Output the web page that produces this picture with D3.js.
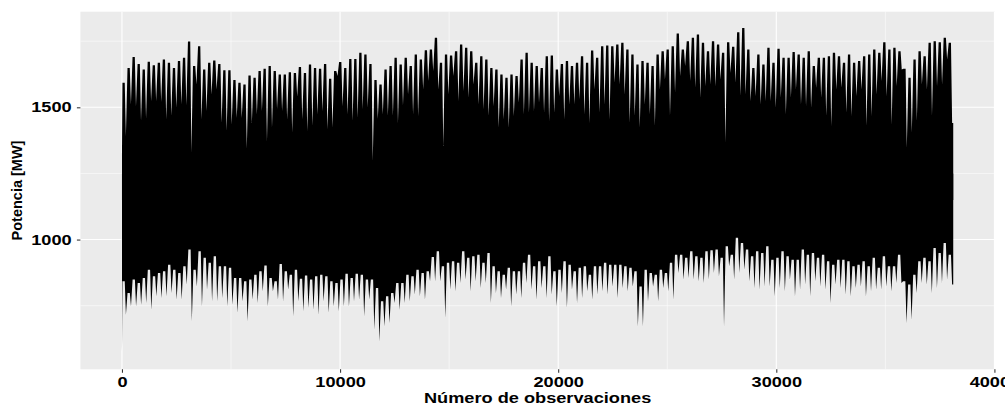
<!DOCTYPE html>
<html>
<head>
<meta charset="utf-8">
<script src="https://d3js.org/d3.v7.min.js"></script>
<style>
body { margin: 0; background: #ffffff; }
text { font-family: "Liberation Sans", Arial, sans-serif; font-weight: bold; }
</style>
</head>
<body>
<script>
// numero total de observaciones (horarias)
var nObs = 38112;

// envolvente superior: pico de cada tramo y la muesca que le sigue [MW]
var picoSuperior = [
  1593,1649,1690,1664,1643,1672,1659,1668,1681,1668,1649,1675,1687,1749,1656,1731,1643,1668,1677,1664,
  1640,1640,1603,1593,1586,1620,1612,1637,1646,1656,1637,1624,1624,1633,1630,1652,1630,1662,1649,1646,
  1664,1608,1637,1671,1649,1683,1683,1706,1700,1664,1603,1586,1643,
  1656,1687,1662,1687,1656,1700,1681,1716,1719,1763,1668,1700,1696,1712,1737,1725,1712,1668,1693,1681,
  1649,1643,1624,1612,1624,1618,1681,1706,1668,1656,1649,1693,1696,1643,1664,1675,1656,1668,1693,1668,
  1715,1687,1731,1734,1731,1737,1744,1719,1700,1662,1675,1668,1656,1700,1712,
  1719,1731,1779,1719,1750,1763,1775,1744,1712,1750,1737,1706,1746,1729,1784,1800,1719,1649,1700,1662,
  1725,1668,1721,1687,1687,1709,1700,1687,1712,1656,1687,1687,1693,1706,1693,1668,1700,1668,1675,1693,
  1700,1719,1706,1746,1719,1725,1712,1646,1612,1681,1712,1693,1744,1750,1746,1763,1744
];
var muescaSuperior = [
  1391,1511,1504,1448,1457,1523,1523,1520,1454,1467,1498,1511,1507,1328,1586,1454,1486,1548,1567,1441,
  1410,1435,1460,1460,1343,1441,1473,1486,1372,1423,1494,1486,1454,1404,1540,1454,1410,1429,1473,1486,
  1416,1423,1618,1504,1473,1448,1460,1494,1498,1296,1457,1473,1467,
  1467,1441,1507,1548,1473,1467,1567,1599,1637,1567,1353,1548,1618,1523,1561,1536,1586,1511,1492,1467,
  1504,1423,1454,1423,1467,1517,1473,1479,1486,1517,1479,1448,1479,1542,1454,1511,1511,1530,1473,1441,
  1567,1479,1511,1454,1593,1586,1548,1441,1467,1423,1511,1473,1429,1567,1605,
  1467,1555,1618,1656,1599,1574,1536,1580,1586,1580,1605,1366,1630,1593,1542,1548,1523,1542,1511,1523,
  1523,1498,1536,1473,1536,1567,1511,1504,1498,1574,1536,1467,1429,1567,1574,1479,1467,1542,1567,1429,
  1467,1548,1599,1542,1435,1580,1643,1347,1404,1448,1586,1567,1467,1580,1586,1681,1441
];

// envolvente inferior: nivel base de cada tramo y el minimo que le sigue [MW]
var baseInferior = [
  842,798,849,836,855,886,861,874,880,905,886,874,899,962,886,956,931,912,937,899,
  899,893,855,855,842,849,867,880,902,855,842,908,880,867,886,852,864,849,861,867,
  861,842,836,849,871,855,871,867,849,849,817,767,786,
  798,836,836,867,861,886,874,880,934,956,899,912,918,912,956,931,937,943,912,949,
  899,880,867,893,880,880,912,943,899,918,899,937,880,886,918,905,880,893,899,867,
  899,899,912,905,905,905,899,893,880,823,886,874,867,886,874,
  912,943,943,931,956,937,931,956,960,962,931,975,943,1007,987,962,937,956,949,975,
  924,931,956,937,924,924,962,943,949,931,943,918,905,924,924,918,899,905,918,899,
  931,893,937,899,899,943,842,830,867,918,931,918,968,949,987,943
];
var picoInferior = [
  716,748,748,754,760,735,786,779,786,798,773,773,830,691,823,748,811,767,767,779,
  748,754,723,767,691,773,760,805,748,805,773,767,811,710,767,729,742,735,716,767,
  723,748,729,748,748,767,773,710,773,660,615,672,685,
  760,735,760,767,792,786,773,842,842,842,704,811,805,836,849,805,842,817,836,760,
  798,779,811,748,792,779,836,811,773,817,779,792,748,798,742,811,760,779,805,773,
  792,805,792,823,779,817,805,823,672,672,767,823,767,817,805,
  773,874,849,855,849,842,836,849,874,861,672,899,849,874,886,842,817,811,823,823,
  786,817,805,849,786,811,830,786,842,823,811,760,830,817,792,786,817,823,786,805,
  811,811,823,805,836,836,685,697,798,836,830,798,817,836,849,830
];

// primera observacion: maximo y minimo del arranque [MW]
var valorInicial = [1315, 571];

var xTicks = [0, 10000, 20000, 30000, 40000];
var xMinor = [5000, 15000, 25000, 35000];
var yTicks = [1000, 1500];
var yMinor = [750, 1250, 1750];

var svgWidth = 1005;
var svgHeight = 405;
var margin = {top: 11.7, right: 10.2, bottom: 35.7, left: 80.4},
    width = svgWidth - margin.left - margin.right,
    height = svgHeight - margin.top - margin.bottom;

var svg = d3.select("body").append("svg")
    .attr("width", svgWidth)
    .attr("height", svgHeight);

var g = svg.append("g")
    .attr("transform", "translate(" + margin.left + "," + margin.top + ")");

// escalas con la expansion del 5% de ggplot
var yMin = d3.min([d3.min(picoInferior), valorInicial[1]]);
var yMax = d3.max(picoSuperior);
var x = d3.scaleLinear()
    .domain([-0.05 * nObs, nObs * 1.05])
    .range([0, width]);
var y = d3.scaleLinear()
    .domain([yMin - 0.05 * (yMax - yMin), yMax + 0.05 * (yMax - yMin)])
    .range([height, 0]);

// panel
g.append("rect")
    .attr("width", width)
    .attr("height", height)
    .attr("fill", "#ebebeb");

g.selectAll(".xminor").data(xMinor).enter().append("line")
    .attr("x1", function(d) { return x(d); }).attr("x2", function(d) { return x(d); })
    .attr("y1", 0).attr("y2", height)
    .attr("stroke", "#ffffff").attr("stroke-width", 0.55);
g.selectAll(".yminor").data(yMinor).enter().append("line")
    .attr("y1", function(d) { return y(d); }).attr("y2", function(d) { return y(d); })
    .attr("x1", 0).attr("x2", width)
    .attr("stroke", "#ffffff").attr("stroke-width", 0.55);
g.selectAll(".xmajor").data(xTicks).enter().append("line")
    .attr("x1", function(d) { return x(d); }).attr("x2", function(d) { return x(d); })
    .attr("y1", 0).attr("y2", height)
    .attr("stroke", "#ffffff").attr("stroke-width", 1.1);
g.selectAll(".ymajor").data(yTicks).enter().append("line")
    .attr("y1", function(d) { return y(d); }).attr("y2", function(d) { return y(d); })
    .attr("x1", 0).attr("x2", width)
    .attr("stroke", "#ffffff").attr("stroke-width", 1.1);

// serie: borde superior e inferior por tramos
var wSup = nObs / picoSuperior.length;
var puntosSup = [{o: 0, v: valorInicial[0]}];
picoSuperior.forEach(function(p, i) {
  var o0 = i * wSup;
  puntosSup.push({o: o0 + 0.1 * wSup, v: p});
  puntosSup.push({o: o0 + 0.55 * wSup, v: p});
  puntosSup.push({o: o0 + 0.78 * wSup, v: muescaSuperior[i]});
});
puntosSup.push({o: nObs, v: muescaSuperior[muescaSuperior.length - 1]});

var wInf = nObs / baseInferior.length;
var puntosInf = [{o: 0, v: valorInicial[1]}];
baseInferior.forEach(function(b, i) {
  var o0 = i * wInf;
  puntosInf.push({o: o0 + 0.1 * wInf, v: b});
  puntosInf.push({o: o0 + 0.55 * wInf, v: b});
  puntosInf.push({o: o0 + 0.78 * wInf, v: picoInferior[i]});
});
puntosInf.push({o: nObs, v: picoInferior[picoInferior.length - 1]});

var areaSup = d3.area()
    .x(function(d) { return x(d.o); })
    .y0(y(1150))
    .y1(function(d) { return y(d.v); });
var areaInf = d3.area()
    .x(function(d) { return x(d.o); })
    .y0(function(d) { return y(d.v); })
    .y1(y(1250));

g.append("path").datum(puntosSup)
    .attr("d", areaSup)
    .attr("fill", "#000000");
g.append("path").datum(puntosInf)
    .attr("d", areaInf)
    .attr("fill", "#000000");

// ejes
var xAxis = g.append("g")
    .attr("transform", "translate(0," + height + ")")
    .call(d3.axisBottom(x).tickValues(xTicks).tickSize(3.5).tickPadding(4.2).tickFormat(d3.format("d")));
xAxis.select(".domain").remove();
xAxis.selectAll("line").attr("stroke", "#333333").attr("stroke-width", 1.07);
xAxis.selectAll("text")
    .attr("fill", "#000000")
    .style("font-size", "14px")
    .attr("transform", "scale(1.3,1)");

var yAxis = g.append("g")
    .call(d3.axisLeft(y).tickValues(yTicks).tickSize(3.5).tickPadding(5.2).tickFormat(d3.format("d")));
yAxis.select(".domain").remove();
yAxis.selectAll("line").attr("stroke", "#333333").attr("stroke-width", 1.07);
yAxis.selectAll("text")
    .attr("fill", "#000000")
    .style("font-size", "14px")
    .attr("x", -8.7 / 1.3)
    .attr("transform", "scale(1.3,1)");

// titulos
svg.append("text")
    .attr("transform", "translate(" + (margin.left + width / 2) + ",402.7) scale(1.3,1)")
    .attr("text-anchor", "middle")
    .attr("fill", "#000000")
    .style("font-size", "14px")
    .text("Número de observaciones");

svg.append("text")
    .attr("transform", "translate(22," + (margin.top + height / 2) + ") rotate(-90)")
    .attr("text-anchor", "middle")
    .attr("fill", "#000000")
    .style("font-size", "14.5px")
    .text("Potencia [MW]");
</script>
</body>
</html>
